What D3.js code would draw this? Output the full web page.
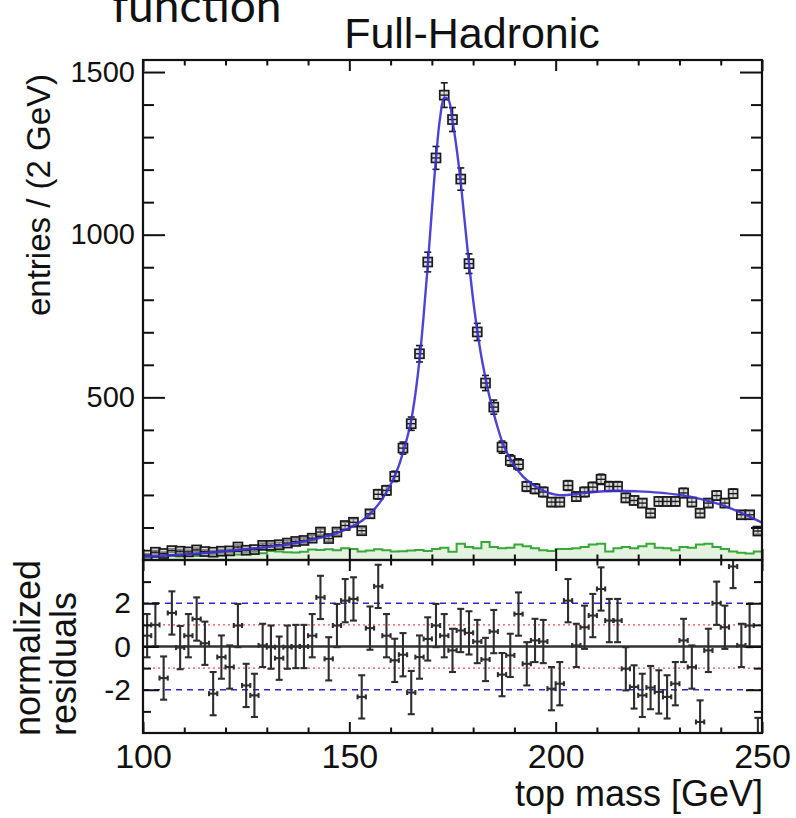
<!DOCTYPE html>
<html>
<head>
<meta charset="utf-8">
<script src="https://cdn.jsdelivr.net/npm/d3@7"></script>
<style>
  html, body { margin: 0; padding: 0; background: #fff; }
  svg { display: block; }
  text { font-family: "Liberation Sans", Arial, sans-serif; fill: #111; }
</style>
</head>
<body>
<svg id="chart" width="796" height="818"></svg>
<script>
// Bin centres of the 2 GeV top-mass histogram (100-250 GeV)
const binCenters = d3.range(101, 250, 2);

// Entries per bin (data points)
const entries = [15, 24, 20, 29, 27, 25, 31, 26, 24, 27, 28, 40, 30, 32, 45, 45, 47, 52, 57, 60,
  67, 86, 66, 86, 106, 116, 90, 142, 202, 214, 257, 344, 419, 634, 916, 1236, 1429, 1354, 1171, 911,
  701, 544, 470, 347, 306, 294, 226, 219, 209, 178, 178, 229, 195, 209, 224, 248, 226, 226, 191, 183,
  175, 144, 180, 180, 180, 206, 178, 144, 175, 198, 175, 204, 139, 139, 89];

// Background template (green histogram)
const background = [8, 10, 9, 12, 11, 13, 12, 14, 15, 16, 18, 17, 20, 22, 21, 28, 26, 24, 23, 25,
  32, 31, 33, 30, 36, 34, 26, 29, 33, 30, 26, 27, 29, 31, 28, 34, 38, 25, 50, 40,
  36, 55, 40, 36, 38, 48, 42, 36, 30, 28, 34, 34, 36, 40, 48, 50, 26, 36, 40, 36,
  42, 50, 38, 36, 30, 40, 38, 48, 50, 40, 34, 26, 22, 20, 26];

// Normalized residuals per bin
const residuals = [0.5, 1.0, -1.46, 1.55, -0.05, 0.5, 1.27, 0.15, -2.18, -0.49, -0.95, 0.97, -1.8, -2.26, 0.05,
  -0.03, -0.54, -0.03, 0.0, 0.0, 0.5, 2.27, -0.57, 0.97, 2.12, 2.2, -2.33, 0.85, 2.78, 0.5,
  -0.64, -0.38, -2.13, -0.49, 0.35, 0.97, 0.5, -0.18, 0.74, 0.63, 0.23, -0.6, 0.69, -1.3, -0.41,
  1.5, -0.8, 0.28, 0.23, -1.95, -1.72, 2.12, 0.05, 0.89, 1.43, 2.66, 1.2, 1.2, -1.03, -1.87,
  -2.26, -1.9, -2.1, -2.33, -1.72, 0.28, -0.95, -3.49, -0.18, 2.0, 0.89, 3.7, 0.05, 0.97, -4.3];

// Fitted function, sampled along the mass axis
const fitMass = [100, 110, 120, 130, 135, 140, 145, 148, 150, 152, 154, 156, 158, 160, 161, 162, 163, 164, 165,
  166, 167, 168, 169, 170, 171, 172, 173, 174, 175, 176, 177, 178, 179, 180, 181, 182, 183, 184, 185,
  186, 187, 188, 190, 192, 194, 196, 198, 200, 202, 205, 210, 215, 220, 225, 230, 235, 240, 245, 250];
const fitValue = [10, 17, 27, 40, 48, 60, 75, 88, 98, 112, 130, 155, 188, 232, 258, 290, 330, 375, 430,
  510, 615, 750, 905, 1075, 1235, 1360, 1420, 1415, 1350, 1265, 1160, 1035, 910, 800, 705, 625, 560, 500, 450,
  405, 365, 335, 290, 258, 236, 220, 208, 201, 199, 203, 210, 213, 211, 207, 200, 188, 170, 145, 115];

const mainTicksMajor = [500, 1000, 1500];
const mainTicksMinor = d3.range(100, 1501, 100).filter(v => v % 500 !== 0);
const resTicksMajor = [-2, 0, 2];
const resTicksMinor = [-3, -1, 1, 3];
const xTicksMajor = [100, 150, 200, 250];
const xTicksMinor = d3.range(110, 250, 10).filter(v => v % 50 !== 0);

const svg = d3.select("#chart");

const left = 143, right = 762;
const mainTop = 60, mainBottom = 560, resBottom = 733;

const x = d3.scaleLinear().domain([100, 250]).range([left, right]);
const y = d3.scaleLinear().domain([0, 1537]).range([mainBottom, mainTop]);
const yr = d3.scaleLinear().domain([-4, 4]).range([resBottom, mainBottom]);

const defs = svg.append("defs");
defs.append("clipPath").attr("id", "clipMain").append("rect")
  .attr("x", left).attr("y", mainTop).attr("width", right - left).attr("height", mainBottom - mainTop);
defs.append("clipPath").attr("id", "clipRes").append("rect")
  .attr("x", left).attr("y", mainBottom).attr("width", right - left).attr("height", resBottom - mainBottom);

// ---------- Main panel ----------
const main = svg.append("g").attr("clip-path", "url(#clipMain)");

// background histogram (step shape)
const bgPts = binCenters.map((c, i) => [c - 1, background[i]]);
bgPts.push([250, background[background.length - 1]]);
main.append("path")
  .datum(bgPts)
  .attr("d", d3.area().x(d => x(d[0])).y0(y(0)).y1(d => y(d[1])).curve(d3.curveStepAfter))
  .attr("fill", "#e3f3df");
main.append("path")
  .datum(bgPts)
  .attr("d", d3.line().x(d => x(d[0])).y(d => y(d[1])).curve(d3.curveStepAfter))
  .attr("fill", "none").attr("stroke", "#38a838").attr("stroke-width", 2);

// data points with error bars
const pts = main.append("g").selectAll("g").data(binCenters.map((c, i) => ({ m: c, v: entries[i] })))
  .join("g");
pts.append("line")
  .attr("x1", d => x(d.m)).attr("x2", d => x(d.m))
  .attr("y1", d => y(d.v + Math.sqrt(d.v))).attr("y2", d => y(d.v - Math.sqrt(d.v)))
  .attr("stroke", "#1a1a1a").attr("stroke-width", 1.6);
[1, -1].forEach(s => {
  pts.append("line")
    .attr("x1", d => x(d.m) - 3.5).attr("x2", d => x(d.m) + 3.5)
    .attr("y1", d => y(d.v + s * Math.sqrt(d.v))).attr("y2", d => y(d.v + s * Math.sqrt(d.v)))
    .attr("stroke", "#1a1a1a").attr("stroke-width", 1.6);
});
pts.append("rect")
  .attr("x", d => x(d.m) - 4.5).attr("y", d => y(d.v) - 4.5)
  .attr("width", 9).attr("height", 9)
  .attr("fill", "#c8c8c8").attr("fill-opacity", 0.6)
  .attr("stroke", "#1a1a1a").attr("stroke-width", 1.7);
pts.append("line")
  .attr("x1", d => x(d.m - 1)).attr("x2", d => x(d.m + 1))
  .attr("y1", d => y(d.v)).attr("y2", d => y(d.v))
  .attr("stroke", "#1a1a1a").attr("stroke-width", 1.4);

// fit curve
main.append("path")
  .datum(fitMass.map((m, i) => [m, fitValue[i]]))
  .attr("d", d3.line().x(d => x(d[0])).y(d => y(d[1])).curve(d3.curveCatmullRom))
  .attr("fill", "none").attr("stroke", "#3b2fd2").attr("stroke-width", 2.4).attr("stroke-opacity", 0.9);

// ---------- Residual panel ----------
const res = svg.append("g").attr("clip-path", "url(#clipRes)");
res.append("line").attr("x1", left).attr("x2", right).attr("y1", yr(0)).attr("y2", yr(0))
  .attr("stroke", "#333").attr("stroke-width", 2.6);
[1, -1].forEach(v => {
  res.append("line").attr("x1", left).attr("x2", right).attr("y1", yr(v)).attr("y2", yr(v))
    .attr("stroke", "#e05050").attr("stroke-width", 1.4).attr("stroke-dasharray", "2,3");
});
[2, -2].forEach(v => {
  res.append("line").attr("x1", left).attr("x2", right).attr("y1", yr(v)).attr("y2", yr(v))
    .attr("stroke", "#2a2ac8").attr("stroke-width", 1.6).attr("stroke-dasharray", "6,5");
});

const rp = res.append("g").selectAll("g").data(binCenters.map((c, i) => ({ m: c, r: residuals[i] })))
  .join("g").attr("stroke", "#2e2e2e").attr("stroke-width", 2.1);
rp.append("line")
  .attr("x1", d => x(d.m)).attr("x2", d => x(d.m))
  .attr("y1", d => yr(d.r + 1)).attr("y2", d => yr(d.r - 1));
[1, -1].forEach(s => {
  rp.append("line")
    .attr("x1", d => x(d.m) - 3.5).attr("x2", d => x(d.m) + 3.5)
    .attr("y1", d => yr(d.r + s)).attr("y2", d => yr(d.r + s));
});
rp.append("line")
  .attr("x1", d => x(d.m - 1)).attr("x2", d => x(d.m + 1))
  .attr("y1", d => yr(d.r)).attr("y2", d => yr(d.r));
[1, -1].forEach(s => {
  rp.append("line")
    .attr("x1", d => x(d.m + s)).attr("x2", d => x(d.m + s))
    .attr("y1", d => yr(d.r) - 2.5).attr("y2", d => yr(d.r) + 2.5);
});

// ---------- Axes ----------
function styleAxis(g, fontSize) {
  g.select(".domain").remove();
  g.selectAll(".tick line").attr("stroke", "#111").attr("stroke-width", 2);
  g.selectAll(".tick text").style("font-size", fontSize + "px")
    .style("font-family", "'Liberation Sans', Arial, sans-serif").attr("fill", "#111");
}
const fmt = d => String(d);

// main y axis (left / right)
svg.append("g").attr("transform", `translate(${left},0)`)
  .call(d3.axisLeft(y).tickValues(mainTicksMajor).tickSizeInner(-22).tickSizeOuter(0).tickPadding(8).tickFormat(fmt))
  .call(g => styleAxis(g, 29));
svg.append("g").attr("transform", `translate(${left},0)`)
  .call(d3.axisLeft(y).tickValues(mainTicksMinor).tickSizeInner(-11).tickSizeOuter(0).tickFormat(""))
  .call(g => styleAxis(g, 29));
svg.append("g").attr("transform", `translate(${right},0)`)
  .call(d3.axisRight(y).tickValues(mainTicksMajor).tickSizeInner(-22).tickSizeOuter(0).tickFormat(""))
  .call(g => styleAxis(g, 29));
svg.append("g").attr("transform", `translate(${right},0)`)
  .call(d3.axisRight(y).tickValues(mainTicksMinor).tickSizeInner(-11).tickSizeOuter(0).tickFormat(""))
  .call(g => styleAxis(g, 29));

// x ticks along the frame edges
function xTicks(yPos, dir, withLabels) {
  svg.append("g").attr("transform", `translate(0,${yPos})`)
    .call(d3.axisBottom(x).tickValues(xTicksMajor).tickSizeInner(dir * 11).tickSizeOuter(0)
      .tickPadding(11).tickFormat(withLabels ? fmt : ""))
    .call(g => styleAxis(g, 34));
  svg.append("g").attr("transform", `translate(0,${yPos})`)
    .call(d3.axisBottom(x).tickValues(xTicksMinor).tickSizeInner(dir * 5.5).tickSizeOuter(0).tickFormat(""))
    .call(g => styleAxis(g, 34));
}
xTicks(mainTop, 1, false);
xTicks(mainBottom, -1, false);
xTicks(mainBottom, 1, false);
xTicks(resBottom, -1, true);

// residual y axis (left / right)
svg.append("g").attr("transform", `translate(${left},0)`)
  .call(d3.axisLeft(yr).tickValues(resTicksMajor).tickSizeInner(-16).tickSizeOuter(0).tickPadding(12).tickFormat(fmt))
  .call(g => styleAxis(g, 30));
svg.append("g").attr("transform", `translate(${left},0)`)
  .call(d3.axisLeft(yr).tickValues(resTicksMinor).tickSizeInner(-8).tickSizeOuter(0).tickFormat(""))
  .call(g => styleAxis(g, 30));
svg.append("g").attr("transform", `translate(${right},0)`)
  .call(d3.axisRight(yr).tickValues(resTicksMajor).tickSizeInner(-16).tickSizeOuter(0).tickFormat(""))
  .call(g => styleAxis(g, 30));
svg.append("g").attr("transform", `translate(${right},0)`)
  .call(d3.axisRight(yr).tickValues(resTicksMinor).tickSizeInner(-8).tickSizeOuter(0).tickFormat(""))
  .call(g => styleAxis(g, 30));

// frames
svg.append("rect").attr("x", left).attr("y", mainTop).attr("width", right - left).attr("height", mainBottom - mainTop)
  .attr("fill", "none").attr("stroke", "#111").attr("stroke-width", 2.2);
svg.append("rect").attr("x", left).attr("y", mainBottom).attr("width", right - left).attr("height", resBottom - mainBottom)
  .attr("fill", "none").attr("stroke", "#111").attr("stroke-width", 2.2);

// ---------- Text ----------
svg.append("text").attr("x", 112).attr("y", 22)
  .style("font-family", "Lato, 'Open Sans', sans-serif").style("font-size", "46px")
  .text("function");
svg.append("text").attr("x", 472).attr("y", 48).attr("text-anchor", "middle")
  .style("font-size", "43px").text("Full-Hadronic");
svg.append("text").attr("transform", "translate(50,195) rotate(-90)").attr("text-anchor", "middle")
  .style("font-size", "33px").text("entries / (2 GeV)");
svg.append("text").attr("transform", "translate(40,648) rotate(-90)").attr("text-anchor", "middle")
  .style("font-size", "36px").text("normalized");
svg.append("text").attr("transform", "translate(76,664) rotate(-90)").attr("text-anchor", "middle")
  .style("font-size", "36px").text("residuals");
svg.append("text").attr("x", 763).attr("y", 806).attr("text-anchor", "end")
  .style("font-size", "36px").text("top mass [GeV]");
</script>
</body>
</html>
